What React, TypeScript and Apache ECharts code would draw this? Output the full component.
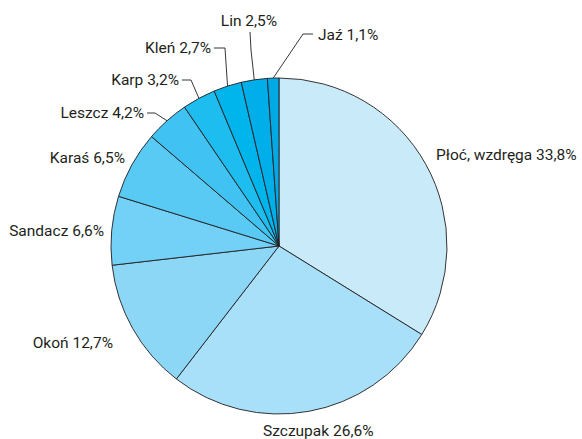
import React, { useEffect, useRef } from "react";
import * as echarts from "echarts";

const categories = ["Płoć, wzdręga", "Szczupak", "Okoń", "Sandacz", "Karaś", "Leszcz", "Karp", "Kleń", "Lin", "Jaź"];
const values = [33.8, 26.6, 12.7, 6.6, 6.5, 4.2, 3.2, 2.7, 2.5, 1.1];
const colors = ["#c8eaf9", "#a9e0f9", "#8dd7f6", "#73d0f6", "#58caf4", "#40c3f2", "#1dbdef", "#00b4ec", "#00aee9", "#00a8e4"];

// label anchor positions: [x, y, align]
const labelPos: [number, number, string][] = [
  [436, 155, "left"],
  [263, 431, "left"],
  [113, 343, "right"],
  [104, 231, "right"],
  [125, 158, "right"],
  [144, 113, "right"],
  [179, 80, "right"],
  [211, 48, "right"],
  [249, 21, "center"],
  [318, 35, "left"],
];
// label line bend and end points (null = no line)
const linePts: (number[][] | null)[] = [
  null, null, null, null, null,
  [[155, 113], [147, 113]],
  [[191, 80], [182, 80]],
  [[225, 48], [214, 48]],
  [[251, 50], [250, 32]],
  [[303, 34], [313, 34]],
];

const fmt = (v: number) => v.toFixed(1).replace(".", ",") + "%";

export default function App() {
  const ref = useRef<HTMLDivElement>(null);
  useEffect(() => {
    document.body.style.margin = "0";
    const chart = echarts.init(ref.current!, undefined, { renderer: "svg" });
    chart.setOption({
      animation: false,
      backgroundColor: "#ffffff",
      series: [
        {
          type: "pie",
          center: [279, 246],
          radius: 168,
          startAngle: 90,
          clockwise: true,
          avoidLabelOverlap: false,
          itemStyle: { borderColor: "#231f20", borderWidth: 0.9 },
          label: {
            show: true,
            position: "outside",
            color: "#231f20",
            fontSize: 15.5,
            fontFamily: "Roboto, sans-serif",
            formatter: (p: any) => `${p.name} ${fmt(p.value)}`,
          },
          labelLine: { show: false, lineStyle: { color: "#231f20", width: 0.9 } },
          labelLayout: (p: any) => {
            const i = p.dataIndex;
            const [x, y, align] = labelPos[i];
            const res: any = { x, y, align, verticalAlign: "middle" };
            const lp = linePts[i];
            if (lp && p.labelLinePoints) {
              res.labelLinePoints = [p.labelLinePoints[0], lp[0], lp[1]];
            }
            return res;
          },
          data: categories.map((name, i) => ({
            name,
            value: values[i],
            itemStyle: { color: colors[i] },
            labelLine: { show: linePts[i] !== null, length: 5, length2: 5 },
          })),
        },
      ],
    });
    return () => chart.dispose();
  }, []);
  return <div ref={ref} style={{ width: 582, height: 439 }} />;
}
